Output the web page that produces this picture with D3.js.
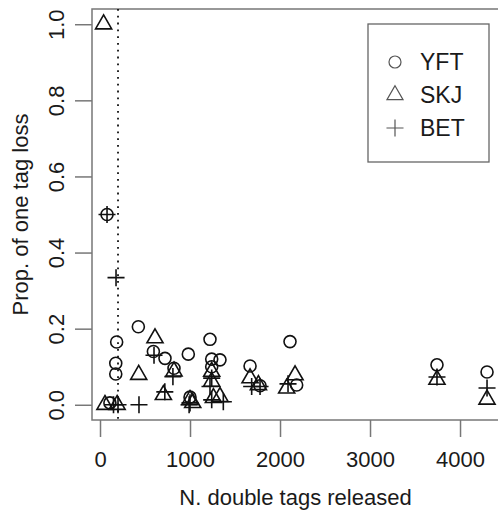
<!DOCTYPE html>
<html lang="en">
<head>
  <meta charset="UTF-8" />
  <title>Prop. of one tag loss</title>
  <script src="https://d3js.org/d3.v7.min.js"></script>
  <style>
    body { margin: 0; background: #fff; }
    text { font-family: "Liberation Sans", Arial, sans-serif; fill: #1a1a1a; }
  </style>
</head>
<body>
  <svg id="chart" width="498" height="510"></svg>

  <script>
    // values: [N. double tags released, prop. of one tag loss]
    const yft = [
      [78, 0.5], [185, 0.165], [175, 0.109], [175, 0.081], [110, 0.005],
      [426, 0.205], [593, 0.14], [722, 0.122], [822, 0.096], [981, 0.133],
      [1000, 0.02], [1222, 0.172], [1241, 0.12], [1333, 0.118], [1241, 0.10],
      [1667, 0.102], [1778, 0.05], [2111, 0.166], [2185, 0.052],
      [3744, 0.105], [4300, 0.086]
    ];
    const skj = [
      [40, 1.0], [55, 0.0], [190, 0.0], [430, 0.079], [611, 0.175],
      [704, 0.026], [822, 0.088], [1000, 0.013], [1030, 0.005], [1241, 0.087],
      [1241, 0.061], [1260, 0.018], [1333, 0.021], [1667, 0.07], [1760, 0.052],
      [2167, 0.078], [2074, 0.043], [3744, 0.066], [4300, 0.014]
    ];
    const bet = [
      [78, 0.5], [178, 0.334], [150, 0.0], [200, 0.0], [433, 0.0],
      [600, 0.13], [720, 0.034], [810, 0.074], [1000, 0.005], [990, 0.0],
      [1241, 0.07], [1222, 0.048], [1241, 0.013], [1370, 0.008], [1685, 0.048],
      [1778, 0.048], [2089, 0.055], [3744, 0.073], [4300, 0.044]
    ];
    const xTicks = [0, 1000, 2000, 3000, 4000];
    const yTicks = [0, 0.2, 0.4, 0.6, 0.8, 1.0];
    const cutoff = 200;
    const species = ["YFT", "SKJ", "BET"];

    const svg = d3.select("#chart"),
          margin = {top: 9, right: -1, bottom: 90, left: 92},
          width = 498 - margin.left - margin.right,
          height = 510 - margin.top - margin.bottom;

    const chart = svg.append("g")
        .attr("transform", `translate(${margin.left},${margin.top})`);

    const x = d3.scaleLinear().domain([-89, 4433]).range([0, width]);
    const y = d3.scaleLinear().domain([-0.04, 1.04]).range([height, 0]);

    const axisGrey = "#777";

    // X axis
    const gx = chart.append("g")
        .attr("transform", `translate(0,${height})`)
        .call(d3.axisBottom(x).tickValues(xTicks).tickSize(17).tickPadding(14).tickFormat(d3.format("d")));
    gx.select(".domain").remove();
    gx.selectAll("line").attr("stroke", axisGrey).attr("stroke-width", 1.5);
    gx.selectAll("text").attr("font-size", 22).attr("fill", "#1a1a1a");

    // Y axis, labels parallel to the axis
    const gy = chart.append("g")
        .call(d3.axisLeft(y).tickValues(yTicks).tickSize(17).tickFormat(d3.format(".1f")));
    gy.select(".domain").remove();
    gy.selectAll("line").attr("stroke", axisGrey).attr("stroke-width", 1.5);
    gy.selectAll("text")
        .attr("x", null).attr("dy", null)
        .attr("transform", "translate(-28,0) rotate(-90)")
        .attr("text-anchor", "middle")
        .attr("font-size", 22)
        .attr("fill", "#1a1a1a");

    // Box
    chart.append("rect")
        .attr("width", width).attr("height", height)
        .attr("fill", "none").attr("stroke", axisGrey).attr("stroke-width", 1.5);

    // dotted cutoff line
    chart.append("line")
        .attr("x1", x(cutoff)).attr("x2", x(cutoff))
        .attr("y1", 0).attr("y2", height)
        .attr("stroke", "#111").attr("stroke-width", 1.8)
        .attr("stroke-dasharray", "1.8,5");

    const rad = 6;
    const triangle = d3.symbol(d3.symbolTriangle, 112);
    const plus = `M${-rad * 1.42},0H${rad * 1.42}M0,${-rad * 1.42}V${rad * 1.42}`;

    // Points
    chart.selectAll(".yft")
        .data(yft)
        .enter().append("circle")
          .attr("class", "yft")
          .attr("cx", d => x(d[0]))
          .attr("cy", d => y(d[1]))
          .attr("r", rad)
          .attr("fill", "none").attr("stroke", "#111").attr("stroke-width", 1.6);

    chart.selectAll(".skj")
        .data(skj)
        .enter().append("path")
          .attr("class", "skj")
          .attr("d", triangle)
          .attr("transform", d => `translate(${x(d[0])},${y(d[1])})`)
          .attr("fill", "none").attr("stroke", "#111").attr("stroke-width", 1.6);

    chart.selectAll(".bet")
        .data(bet)
        .enter().append("path")
          .attr("class", "bet")
          .attr("d", plus)
          .attr("transform", d => `translate(${x(d[0])},${y(d[1])})`)
          .attr("fill", "none").attr("stroke", "#111").attr("stroke-width", 1.6);

    // Legend
    const legend = svg.append("g").attr("transform", "translate(368,24)");
    legend.append("rect")
        .attr("width", 121).attr("height", 138)
        .attr("fill", "#fff").attr("stroke", "#666").attr("stroke-width", 1.3);

    const rows = legend.selectAll(".row")
        .data(species)
        .enter().append("g")
          .attr("class", "row")
          .attr("transform", (d, i) => `translate(27,${38 + i * 33})`);

    rows.filter((d, i) => i === 0).append("circle").attr("r", rad);
    rows.filter((d, i) => i === 1).append("path").attr("d", triangle);
    rows.filter((d, i) => i === 2).append("path").attr("d", plus);
    rows.selectAll("circle, path")
        .attr("fill", "none").attr("stroke", "#555").attr("stroke-width", 1.2);

    rows.append("text")
        .attr("x", 25).attr("y", 8)
        .attr("font-size", 23)
        .text(d => d);

    // Axis titles
    svg.append("text")
      .attr("x", 295.5)
      .attr("y", 505)
      .attr("text-anchor", "middle")
      .attr("font-size", 22)
      .text("N. double tags released");

    svg.append("text")
      .attr("transform", `translate(28,${margin.top + height / 2}) rotate(-90)`)
      .attr("text-anchor", "middle")
      .attr("font-size", 22)
      .text("Prop. of one tag loss");
  </script>
</body>
</html>
